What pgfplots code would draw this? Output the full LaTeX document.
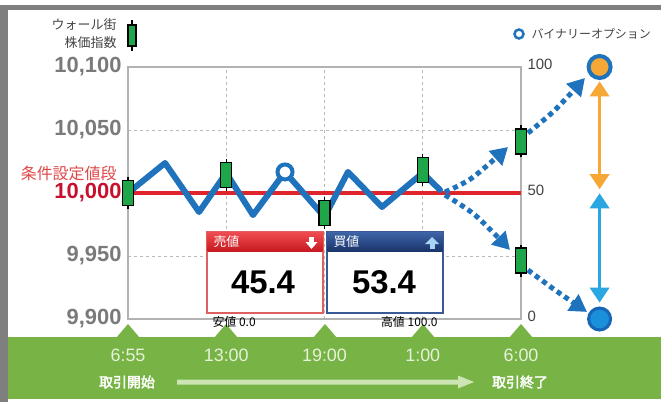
\documentclass[border=0pt]{standalone}
\usepackage{pgfplots}
\pgfplotsset{compat=1.18}
\usepackage{fontspec}
\setmainfont{Liberation Sans}
\newfontfamily\jp{Noto Sans CJK JP}
\newfontfamily\jpb{Noto Sans CJK JP}[FakeBold=2.5]
\usetikzlibrary{arrows.meta}

\definecolor{lineblue}{HTML}{1F72BC}
\definecolor{cgreen}{HTML}{1FA54A}
\definecolor{lred}{HTML}{E0242C}
\definecolor{numred}{HTML}{C8102E}
\definecolor{lblred}{HTML}{E04848}
\definecolor{lorange}{HTML}{F5A835}
\definecolor{lcyan}{HTML}{2AA7E1}
\definecolor{lgray}{HTML}{7A7A7A}
\definecolor{dgray}{HTML}{444444}
\definecolor{band}{HTML}{77B445}
\definecolor{bandtxt}{HTML}{E6F1D9}
\definecolor{bandarrow}{HTML}{CDE5B3}
\definecolor{frame}{HTML}{7F7F7F}
\definecolor{hrtop}{HTML}{EE4A4F}
\definecolor{hrbot}{HTML}{C81A20}
\definecolor{hbtop}{HTML}{3D63A6}
\definecolor{hbbot}{HTML}{1B346C}
\definecolor{rborder}{HTML}{E06060}
\definecolor{bborder}{HTML}{3A5A95}
\definecolor{circblue}{HTML}{1A8FDA}
\definecolor{ringblue}{HTML}{1766B6}
\definecolor{uparrow}{HTML}{A8D4F5}

\pgfdeclareplotmark{candle}{%
  \pgfsetlinewidth{1.2bp}%
  \pgfsetstrokecolor{black}%
  \pgfpathmoveto{\pgfqpoint{0bp}{-16bp}}\pgfpathlineto{\pgfqpoint{0bp}{16bp}}%
  \pgfusepathqstroke
  \pgfsetfillcolor{cgreen}%
  \pgfsetlinewidth{1.4bp}%
  \pgfpathrectangle{\pgfqpoint{-5.5bp}{-12.5bp}}{\pgfqpoint{11bp}{25bp}}%
  \pgfusepathqfillstroke
}

\begin{document}
\begin{tikzpicture}
% ---------- background decoration (pixel coordinates) ----------
\begin{scope}[x=1bp,y=-1bp]
  \fill[white] (0,0) rectangle (661,402);
  \fill[frame] (0,5) rectangle (661,10);
  \fill[frame] (0,5) rectangle (8,402);
  \fill[band] (8,337) rectangle (661,399);
  \foreach \x in {128,226,325,423,521}
    \fill[band] (\x-12,338) -- (\x,324) -- (\x+12,338) -- cycle;
  \fill[bandarrow] (177,379.5) -- (458,379.5) -- (458,375.5) -- (474,382)
       -- (458,388.5) -- (458,384.5) -- (177,384.5) -- cycle;
  \node[font=\jpb\fontsize{14}{14}\selectfont, text=white] at (127,382) {取引開始};
  \node[font=\jpb\fontsize{14}{14}\selectfont, text=white] at (520,382) {取引終了};
  % legend: candle
  \node[anchor=east, align=right, font=\jp\fontsize{13}{18}\selectfont, text=dgray]
       at (120,34) {ウォール街\\株価指数};
  \draw[black, line width=1.2bp] (132,20) -- (132,51);
  \filldraw[fill=cgreen, draw=black, line width=1.4bp] (128,25) rectangle (136,46);
  % legend: binary option
  \draw[lineblue, line width=2.5bp] (519,34) circle (4.5);
  \node[anchor=west, font=\jp\fontsize{12}{12}\selectfont, text=dgray] at (528,34) {バイナリーオプション};
  % label for strike level
  \node[anchor=east, font=\jp\fontsize{16}{16}\selectfont, text=lblred] at (120,173) {条件設定値段};
\end{scope}

% ---------- main axis: index level ----------
\begin{axis}[
  at={(128bp,-319bp)}, anchor=south west,
  scale only axis, width=393bp, height=252bp,
  xmin=0, xmax=4, ymin=9900, ymax=10100,
  clip=false,
  scaled y ticks=false,
  axis line style={draw=gray!60, line width=1.5bp},
  major tick length=0,
  xtick={0,1,2,3,4},
  xticklabels={6:55,13:00,19:00,1:00,6:00},
  xticklabel style={anchor=center, yshift=-36bp, text=bandtxt,
                    font=\fontsize{18}{18}\selectfont},
  ytick={9900,9950,10000,10050,10100},
  yticklabels={{9,900},{9,950},{\textcolor{numred}{10,000}},{10,050},{10,100}},
  yticklabel style={anchor=east, text=lgray,
                    font=\bfseries\fontsize{22}{22}\selectfont, xshift=-3bp},
  grid=major,
  grid style={gray!55, line width=1bp, dash pattern=on 3bp off 3bp},
]
% strike level
\addplot[lred, line width=3.3bp] coordinates {(0,10000) (4,10000)};
% index path
\addplot[lineblue, line width=6bp, line join=round, line cap=round] coordinates {
  (0,10000) (0.377,10023.8) (0.723,9984.9) (1,10015.9) (1.272,9982.5)
  (1.598,10016.7) (2,9981.0) (2.239,10016.7) (2.585,9988.9) (3,10015.9)
  (3.176,10002.4)
};
% dotted scenario arrows
\addplot[lineblue, line width=5bp, dash pattern=on 5bp off 4bp, smooth,
  -{Triangle[length=17bp,width=19bp]}] coordinates {
  (3.226,10000.8) (3.501,10011.9) (3.868,10036.5)};
\addplot[lineblue, line width=5bp, dash pattern=on 5bp off 4bp, smooth,
  -{Triangle[length=17bp,width=19bp]}] coordinates {
  (3.226,9998.4) (3.532,9982.5) (3.888,9954.8)};
\addplot[lineblue, line width=5bp, dash pattern=on 5bp off 4bp, smooth,
  -{Triangle[length=17bp,width=19bp]}] coordinates {
  (4.071,10047.6) (4.346,10065.9) (4.651,10091.3)};
\addplot[lineblue, line width=5bp, dash pattern=on 5bp off 4bp, smooth,
  -{Triangle[length=17bp,width=19bp]}] coordinates {
  (4.071,9938.9) (4.346,9923.0) (4.672,9905.6)};
% binary option observation point
\addplot[only marks, mark=*, mark size=7.5bp,
  mark options={fill=white, draw=lineblue, line width=4bp}] coordinates {(1.598,10016.7)};
% candles
\addplot[only marks, mark=candle] coordinates {
  (0,10000) (1,10014.5) (2,9984.1) (3,10018.3) (4,10040.9) (4,9946.4)};
\end{axis}

% ---------- right axis: binary option price ----------
\begin{axis}[
  at={(128bp,-319bp)}, anchor=south west,
  scale only axis, width=393bp, height=252bp,
  xmin=0, xmax=4, ymin=0, ymax=100,
  clip=false,
  hide x axis,
  axis y line*=right,
  y axis line style={draw=none},
  major tick length=0,
  ytick={0,50,100},
  yticklabels={0,50,100},
  yticklabel style={anchor=west, text=dgray, font=\fontsize{15}{15}\selectfont,
                    yshift=3bp, xshift=3bp},
]
\addplot[lorange, line width=3.3bp,
  {Triangle[length=15bp,width=19bp]}-{Triangle[length=15bp,width=19bp]}]
  coordinates {(4.80,51.5) (4.80,94.3)};
\addplot[lcyan, line width=3.3bp,
  {Triangle[length=15bp,width=19bp]}-{Triangle[length=15bp,width=19bp]}]
  coordinates {(4.80,6.5) (4.80,49.9)};
\addplot[only marks, mark=*, mark size=11bp,
  mark options={fill=lorange, draw=lineblue, line width=4bp}] coordinates {(4.80,100)};
\addplot[only marks, mark=*, mark size=11bp,
  mark options={fill=circblue, draw=ringblue, line width=3bp}] coordinates {(4.80,0)};
\end{axis}

% ---------- price boxes ----------
\begin{scope}[x=1bp,y=-1bp]
  \filldraw[fill=white, draw=rborder, line width=1.2bp] (207,232) rectangle (323,313);
  \shade[top color=hrtop, bottom color=hrbot] (207.6,232.6) rectangle (322.4,251);
  \node[anchor=west, font=\jp\fontsize{13}{13}\selectfont, text=white] at (210,242) {売値};
  \fill[white] (309,236.5) rectangle (314,242);
  \fill[white] (305.5,242) -- (317.5,242) -- (311.5,249) -- cycle;
  \node[font=\bfseries\fontsize{33}{33}\selectfont] at (263,282) {45.4};

  \filldraw[fill=white, draw=bborder, line width=1.2bp] (327,232) rectangle (443,313);
  \shade[top color=hbtop, bottom color=hbbot] (327.6,232.6) rectangle (442.4,251);
  \node[anchor=west, font=\jp\fontsize{13}{13}\selectfont, text=white] at (330,242) {買値};
  \fill[uparrow] (425,244) -- (439,244) -- (432,237) -- cycle;
  \fill[uparrow] (429.5,244) rectangle (434.5,249);
  \node[font=\bfseries\fontsize{33}{33}\selectfont] at (384,282) {53.4};

  \node[anchor=west, font=\jp\fontsize{12}{12}\selectfont] at (209,322) {安値 0.0};
  \node[anchor=east, font=\jp\fontsize{12}{12}\selectfont] at (441,322) {高値 100.0};
\end{scope}

\pgfresetboundingbox
\path[use as bounding box] (0,0) rectangle (661bp,-402bp);
\end{tikzpicture}
\end{document}
